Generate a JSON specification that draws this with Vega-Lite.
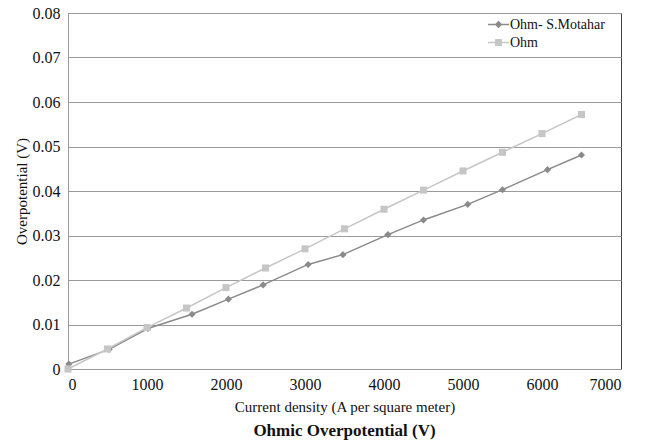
{
  "$schema": "https://vega.github.io/schema/vega-lite/v6.json",
  "width": 553,
  "height": 356,
  "autosize": {"type": "none"},
  "padding": {"left": 68, "top": 13, "right": 29, "bottom": 74},
  "background": "white",
  "title": {
    "text": "Ohmic Overpotential (V)",
    "orient": "bottom",
    "anchor": "middle",
    "font": "Liberation Serif",
    "fontSize": 17,
    "fontWeight": "bold",
    "color": "#111",
    "offset": 9
  },
  "config": {
    "view": {"stroke": "#444", "strokeWidth": 1},
    "font": "Liberation Serif",
    "axis": {
      "labelFont": "Liberation Serif",
      "titleFont": "Liberation Serif",
      "labelColor": "#111",
      "titleColor": "#111",
      "labelFontSize": 16,
      "titleFontSize": 15,
      "titleFontWeight": "normal",
      "ticks": false,
      "domainColor": "#9a9a9a",
      "gridColor": "#9a9a9a",
      "gridOpacity": 1
    },
    "legend": {
      "title": null,
      "orient": "none",
      "legendX": 420,
      "legendY": 1,
      "padding": 0,
      "rowPadding": -2,
      "labelFont": "Liberation Serif",
      "labelFontSize": 14,
      "labelColor": "#111",
      "labelOffset": 1,
      "symbolSize": 440,
      "symbolStrokeWidth": 0
    }
  },
  "data": {
    "values": [
      {"series": "Ohm- S.Motahar", "current": 10, "overpotential": 0.0011},
      {"series": "Ohm- S.Motahar", "current": 520, "overpotential": 0.0044},
      {"series": "Ohm- S.Motahar", "current": 1010, "overpotential": 0.0091},
      {"series": "Ohm- S.Motahar", "current": 1570, "overpotential": 0.0123},
      {"series": "Ohm- S.Motahar", "current": 2030, "overpotential": 0.0157},
      {"series": "Ohm- S.Motahar", "current": 2470, "overpotential": 0.0189},
      {"series": "Ohm- S.Motahar", "current": 3040, "overpotential": 0.0235},
      {"series": "Ohm- S.Motahar", "current": 3480, "overpotential": 0.0257},
      {"series": "Ohm- S.Motahar", "current": 4050, "overpotential": 0.0302},
      {"series": "Ohm- S.Motahar", "current": 4500, "overpotential": 0.0335},
      {"series": "Ohm- S.Motahar", "current": 5060, "overpotential": 0.0370},
      {"series": "Ohm- S.Motahar", "current": 5500, "overpotential": 0.0403},
      {"series": "Ohm- S.Motahar", "current": 6070, "overpotential": 0.0448},
      {"series": "Ohm- S.Motahar", "current": 6500, "overpotential": 0.0481},
      {"series": "Ohm", "current": 0, "overpotential": 0.0},
      {"series": "Ohm", "current": 500, "overpotential": 0.0045},
      {"series": "Ohm", "current": 1000, "overpotential": 0.0093},
      {"series": "Ohm", "current": 1500, "overpotential": 0.0137},
      {"series": "Ohm", "current": 2000, "overpotential": 0.0183},
      {"series": "Ohm", "current": 2500, "overpotential": 0.0227},
      {"series": "Ohm", "current": 3000, "overpotential": 0.0270},
      {"series": "Ohm", "current": 3500, "overpotential": 0.0315},
      {"series": "Ohm", "current": 4000, "overpotential": 0.0359},
      {"series": "Ohm", "current": 4500, "overpotential": 0.0402},
      {"series": "Ohm", "current": 5000, "overpotential": 0.0445},
      {"series": "Ohm", "current": 5500, "overpotential": 0.0487},
      {"series": "Ohm", "current": 6000, "overpotential": 0.0529},
      {"series": "Ohm", "current": 6500, "overpotential": 0.0572}
    ]
  },
  "encoding": {
    "x": {
      "field": "current",
      "type": "quantitative",
      "scale": {"domain": [0, 7000], "nice": false},
      "axis": {
        "title": "Current density (A per square meter)",
        "values": [0, 1000, 2000, 3000, 4000, 5000, 6000, 7000],
        "format": "d",
        "grid": false,
        "labelPadding": 7,
        "titlePadding": 7
      }
    },
    "y": {
      "field": "overpotential",
      "type": "quantitative",
      "scale": {"domain": [0, 0.08], "nice": false},
      "axis": {
        "title": "Overpotential (V)",
        "values": [0, 0.01, 0.02, 0.03, 0.04, 0.05, 0.06, 0.07, 0.08],
        "labelExpr": "datum.value == 0 ? '0' : format(datum.value, '.2f')",
        "grid": true,
        "labelPadding": 8,
        "titlePadding": 3
      }
    }
  },
  "resolve": {"legend": {"color": "independent", "shape": "independent"}},
  "layer": [
    {
      "mark": {"type": "line", "strokeWidth": 1.5},
      "encoding": {
        "color": {
          "field": "series",
          "type": "nominal",
          "scale": {"domain": ["Ohm- S.Motahar", "Ohm"], "range": ["#8a8a8a", "#c6c6c6"]},
          "legend": {
            "symbolStrokeWidth": 0,
            "encode": {
              "symbols": {
                "update": {
                  "shape": {"signal": "datum.value === 'Ohm' ? 'M-1,-0.06L1,-0.06L1,0.06L-1,0.06Z M-0.33,-0.33L0.33,-0.33L0.33,0.33L-0.33,0.33Z' : 'M-1,-0.06L1,-0.06L1,0.06L-1,0.06Z M0,-0.36L0.36,0L0,0.36L-0.36,0Z'"},
                  "fill": {"signal": "datum.value === 'Ohm' ? '#c6c6c6' : '#8a8a8a'"},
                  "strokeWidth": {"value": 0}
                }
              }
            }
          }
        }
      }
    },
    {
      "mark": {"type": "point", "filled": true, "opacity": 1, "size": 50},
      "encoding": {
        "color": {
          "field": "series",
          "type": "nominal",
          "scale": {"domain": ["Ohm- S.Motahar", "Ohm"], "range": ["#8a8a8a", "#c6c6c6"]},
          "legend": null
        },
        "shape": {
          "field": "series",
          "type": "nominal",
          "scale": {"domain": ["Ohm- S.Motahar", "Ohm"], "range": ["diamond", "square"]},
          "legend": null
        }
      }
    }
  ]
}
